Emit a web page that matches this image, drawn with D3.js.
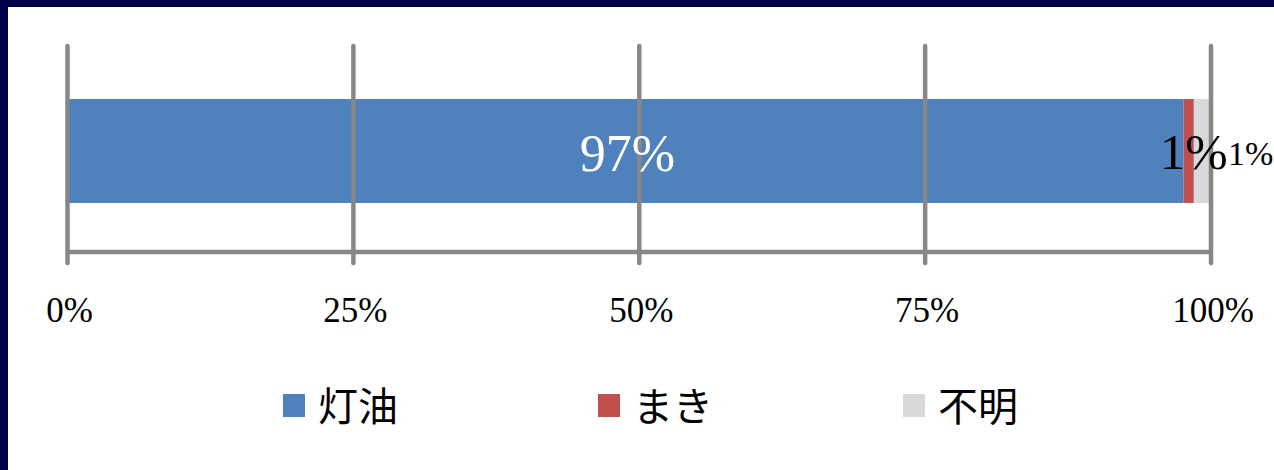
<!DOCTYPE html>
<html><head><meta charset="utf-8">
<script src="https://cdn.jsdelivr.net/npm/d3@7"></script>
<style>
html,body{margin:0;padding:0;background:#fff;}
svg{display:block;}
</style></head>
<body>
<script>
const categories = ["灯油", "まき", "不明"];
const values = [97.6, 0.9, 1.5];
const valueLabels = ["97%", "1%", "1%"];
const colors = ["#4F81BD", "#C0504D", "#D9D9D9"];
const tickValues = [0, 25, 50, 75, 100];
const tickLabels = ["0%", "25%", "50%", "75%", "100%"];

const W = 1274, H = 470;
const svg = d3.select("body").append("svg").attr("width", W).attr("height", H);

// frame border (top and left)
svg.append("rect").attr("x", 0).attr("y", 0).attr("width", W).attr("height", 7).attr("fill", "#000046");
svg.append("rect").attr("x", 0).attr("y", 0).attr("width", 8).attr("height", H).attr("fill", "#000046");

const x = d3.scaleLinear().domain([0, 100]).range([67.5, 1211]);
const y = d3.scaleBand().domain(["row"]).range([46, 256]).paddingInner(0).paddingOuter(0.51);

const gridTop = 46, axisY = 252, gridBottom = 263;
const gridColor = "#878787";

// stacked data
let acc = 0;
const stack = values.map((v, i) => { const s = {i, x0: acc, x1: acc + v, v}; acc += v; return s; });

// bars
svg.append("g").selectAll("rect").data(stack).join("rect")
  .attr("x", d => x(d.x0))
  .attr("width", d => x(d.x1) - x(d.x0))
  .attr("y", y("row"))
  .attr("height", y.bandwidth())
  .attr("fill", d => colors[d.i]);

// gridlines
svg.append("g").selectAll("line").data(tickValues).join("line")
  .attr("x1", d => x(d)).attr("x2", d => x(d))
  .attr("y1", gridTop).attr("y2", gridBottom)
  .attr("stroke", gridColor).attr("stroke-width", 4.5).attr("stroke-linecap", "round");
// axis line
svg.append("line").attr("x1", x(0)).attr("x2", x(100)).attr("y1", axisY).attr("y2", axisY)
  .attr("stroke", gridColor).attr("stroke-width", 4.5);

// tick labels
svg.append("g").selectAll("text").data(tickValues).join("text")
  .attr("x", d => x(d) + 2).attr("y", 322)
  .attr("text-anchor", "middle")
  .attr("font-family", "'Liberation Serif', 'Times New Roman', serif")
  .attr("font-size", 35).attr("fill", "#000")
  .text((d, i) => tickLabels[i]);

// value labels
const midY = y("row") + y.bandwidth() / 2;
svg.append("text").attr("x", x((stack[0].x0 + stack[0].x1) / 2) + 2).attr("y", midY + 20)
  .attr("text-anchor", "middle").attr("font-family", "'Liberation Serif', serif")
  .attr("font-size", 52).attr("fill", "#fff").text(valueLabels[0]);
svg.append("text").attr("x", x((stack[1].x0 + stack[1].x1) / 2) + 5).attr("y", midY + 18)
  .attr("text-anchor", "middle").attr("font-family", "'Liberation Serif', serif")
  .attr("font-size", 51).attr("fill", "#000").text(valueLabels[1]);
svg.append("text").attr("x", x(stack[2].x1) + 17).attr("y", midY + 14)
  .attr("text-anchor", "start").attr("font-family", "'Liberation Serif', serif")
  .attr("font-size", 34).attr("fill", "#000").text(valueLabels[2]);

// legend
const legendX = [283, 598, 903];
const lg = svg.append("g").selectAll("g").data(categories).join("g")
  .attr("transform", (d, i) => `translate(${legendX[i]},0)`);
lg.append("rect").attr("x", 0).attr("y", 394).attr("width", 22).attr("height", 23)
  .attr("fill", (d, i) => colors[i]);
lg.append("text").attr("x", 35).attr("y", 421)
  .attr("font-family", "'Noto Sans CJK JP', sans-serif")
  .attr("font-size", 40).attr("fill", "#000").text(d => d);
</script>
</body></html>
